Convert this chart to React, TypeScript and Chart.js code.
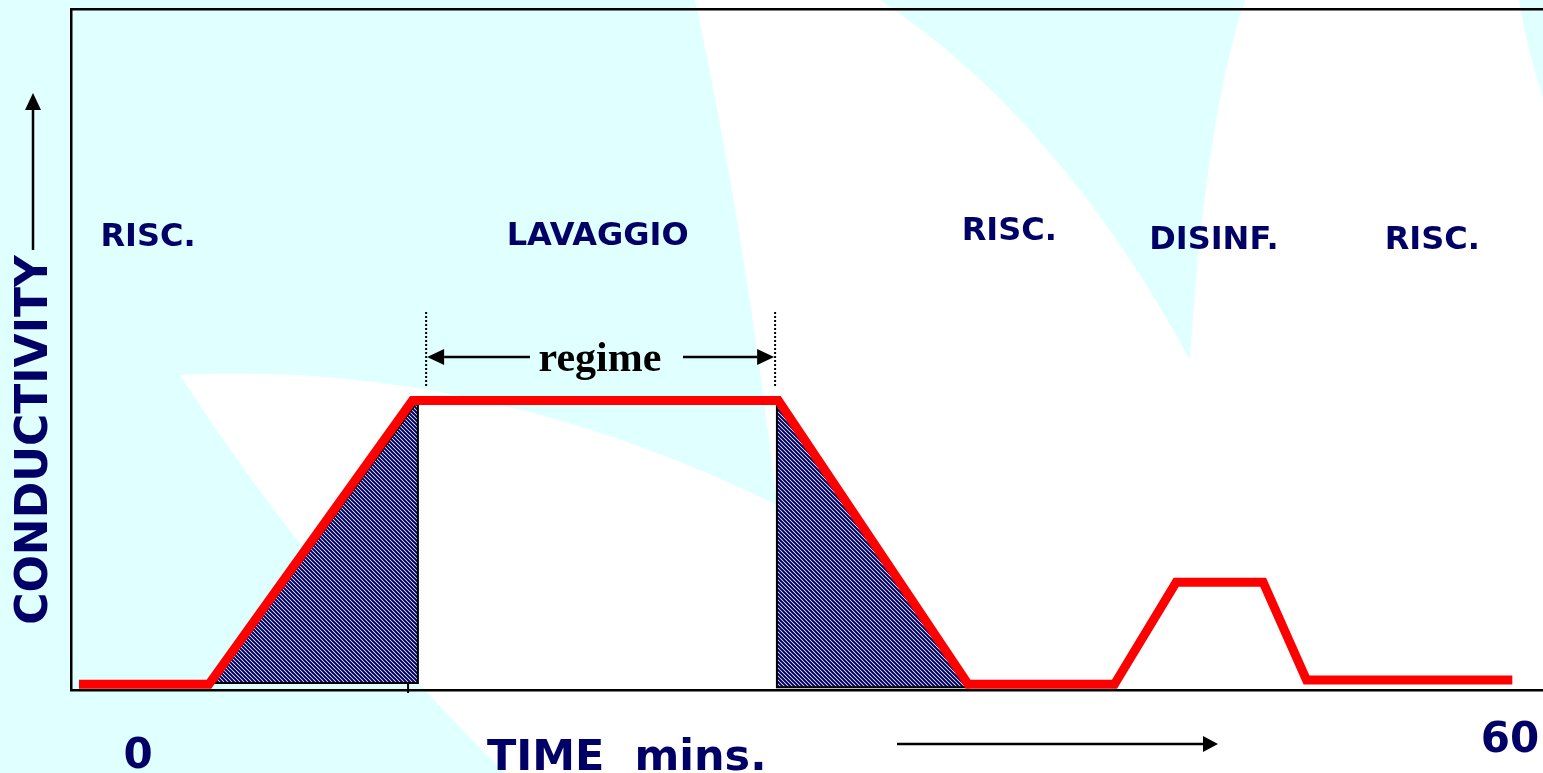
import React, { useEffect, useRef } from "react";
import { Chart, registerables } from "chart.js";

Chart.register(...registerables);

// ---- data (time in minutes, conductivity in relative units) ----
const conductivityTimes = [-2.58, 3.1, 12.0, 28.0, 36.3, 42.7, 45.4, 49.2, 51.1, 60.1];
const conductivityValues = [0, 0, 100, 100, 0, 0, 36, 36, 1.5, 1.5];

const rampUpTimes = [3.28, 12.24, 12.24, 3.28];
const rampUpValues = [0.5, 100, 0.5, 0.5];

const rampDownTimes = [27.94, 27.94, 36.3, 27.94];
const rampDownValues = [100, -1, -1, 100];

const phaseNames = ["RISC.", "LAVAGGIO", "RISC.", "DISINF.", "RISC."];
const phaseCenters = [0.44, 20.1, 38.1, 47.05, 56.6];

const timeTickValues = [0, 60];
const timeTickLabels = ["0", "60"];

const regimeStart = 12.6;
const regimeEnd = 27.86;
const markerTime = 11.81;

const xMin = -2.93;
const xMax = 61.44;
const yMin = -2;
const yMax = 238;

// ---- layout constants ----
const W = 1543;
const H = 773;
const NAVY = "#000066";
const phaseBaselines = [246, 245, 240, 249, 249];
const tickBaselines = [768, 752];

function toPoints(xs: number[], ys: number[]) {
  return xs.map((x, i) => ({ x, y: ys[i] }));
}

function arrow(
  ctx: CanvasRenderingContext2D,
  x1: number,
  y1: number,
  x2: number,
  y2: number,
  head: number,
  half: number,
  lw: number
) {
  const a = Math.atan2(y2 - y1, x2 - x1);
  const c = Math.cos(a);
  const s = Math.sin(a);
  ctx.lineWidth = lw;
  ctx.strokeStyle = "#000";
  ctx.fillStyle = "#000";
  ctx.setLineDash([]);
  ctx.beginPath();
  ctx.moveTo(x1, y1);
  ctx.lineTo(x2 - head * c, y2 - head * s);
  ctx.stroke();
  ctx.beginPath();
  ctx.moveTo(x2, y2);
  ctx.lineTo(x2 - head * c + half * s, y2 - head * s - half * c);
  ctx.lineTo(x2 - head * c - half * s, y2 - head * s + half * c);
  ctx.closePath();
  ctx.fill();
}

const backgroundPlugin = {
  id: "slideBackground",
  beforeDraw(chart: any) {
    const ctx: CanvasRenderingContext2D = chart.ctx;
    ctx.save();
    ctx.fillStyle = "#E0FFFF";
    ctx.fillRect(0, 0, chart.width, chart.height);
    ctx.fillStyle = "#FFFFFF";
    ctx.beginPath();
    ctx.moveTo(180, 375);
    ctx.quadraticCurveTo(315, 585, 505, 773);
    ctx.lineTo(1543, 773);
    ctx.lineTo(1543, 98);
    ctx.quadraticCurveTo(1526, 45, 1519, 0);
    ctx.lineTo(1245, 0);
    ctx.quadraticCurveTo(1205, 120, 1190, 360);
    ctx.quadraticCurveTo(1060, 120, 880, 0);
    ctx.lineTo(695, 0);
    ctx.quadraticCurveTo(745, 230, 777, 505);
    ctx.quadraticCurveTo(480, 360, 180, 375);
    ctx.closePath();
    ctx.fill();
    ctx.restore();
  },
};

const annotationPlugin = {
  id: "slideAnnotations",
  afterDraw(chart: any) {
    const ctx: CanvasRenderingContext2D = chart.ctx;
    const xs = chart.scales.x;
    const area = chart.chartArea;
    ctx.save();

    // phase labels
    ctx.fillStyle = NAVY;
    ctx.font = 'bold 32px "DejaVu Sans"';
    ctx.textAlign = "center";
    ctx.textBaseline = "alphabetic";
    phaseNames.forEach((n, i) => {
      ctx.fillText(n, xs.getPixelForValue(phaseCenters[i]), phaseBaselines[i]);
    });

    // time tick labels
    ctx.font = 'bold 42px "DejaVu Sans"';
    timeTickValues.forEach((v, i) => {
      ctx.fillText(timeTickLabels[i], xs.getPixelForValue(v), tickBaselines[i]);
    });

    // x title
    ctx.textAlign = "left";
    ctx.font = 'bold 43px "DejaVu Sans"';
    ctx.fillText("TIME  mins.", 487, 770);

    // y title
    ctx.save();
    ctx.translate(47, 440);
    ctx.rotate(-Math.PI / 2);
    ctx.textAlign = "center";
    ctx.font = 'bold 44px "DejaVu Sans"';
    ctx.fillText("CONDUCTIVITY", 0, 0);
    ctx.restore();

    // axis direction arrows
    arrow(ctx, 33, 250, 33, 93, 17, 8, 2.5);
    arrow(ctx, 897, 744, 1218, 744, 15, 8, 2.5);

    // regime markers
    const rx1 = xs.getPixelForValue(regimeStart);
    const rx2 = xs.getPixelForValue(regimeEnd);
    ctx.strokeStyle = "#000";
    ctx.lineWidth = 2;
    ctx.setLineDash([2, 2]);
    ctx.beginPath();
    ctx.moveTo(rx1, 312);
    ctx.lineTo(rx1, 388);
    ctx.moveTo(rx2, 312);
    ctx.lineTo(rx2, 388);
    ctx.stroke();
    ctx.setLineDash([]);
    arrow(ctx, 530, 357, rx1 + 1, 357, 17, 8, 2.5);
    arrow(ctx, 683, 357, rx2 - 1, 357, 17, 8, 2.5);

    ctx.fillStyle = "#000";
    ctx.font = 'bold 42px "Liberation Serif"';
    ctx.textAlign = "center";
    ctx.fillText("regime", 600, 371);

    // small tick on the time axis
    const mx = xs.getPixelForValue(markerTime);
    ctx.lineWidth = 2;
    ctx.beginPath();
    ctx.moveTo(mx, area.bottom - 8);
    ctx.lineTo(mx, area.bottom + 3);
    ctx.stroke();

    ctx.restore();
  },
};

export default function App() {
  const ref = useRef<HTMLCanvasElement>(null);

  useEffect(() => {
    document.body.style.margin = "0";
    document.body.style.overflow = "hidden";
    const canvas = ref.current!;

    const pc = document.createElement("canvas");
    pc.width = 4;
    pc.height = 4;
    const p = pc.getContext("2d")!;
    p.fillStyle = "#ffffff";
    p.fillRect(0, 0, 4, 4);
    p.strokeStyle = NAVY;
    p.lineWidth = 2;
    p.beginPath();
    p.moveTo(-1, -1);
    p.lineTo(5, 5);
    p.moveTo(-1, 3);
    p.lineTo(1, 5);
    p.moveTo(3, -1);
    p.lineTo(5, 1);
    p.stroke();
    const pattern = canvas.getContext("2d")!.createPattern(pc, "repeat");

    const chart = new Chart(canvas, {
      type: "line",
      data: {
        datasets: [
          {
            label: "Conductivity",
            data: toPoints(conductivityTimes, conductivityValues),
            borderColor: "#FF0000",
            borderWidth: 9,
            borderCapStyle: "butt",
            borderJoinStyle: "miter",
            pointRadius: 0,
            fill: false,
            tension: 0,
            order: 0,
          },
          {
            label: "Ramp up",
            data: toPoints(rampUpTimes, rampUpValues),
            borderColor: "#000000",
            borderWidth: 2,
            backgroundColor: pattern as any,
            pointRadius: 0,
            fill: "shape",
            tension: 0,
            order: 1,
          },
          {
            label: "Ramp down",
            data: toPoints(rampDownTimes, rampDownValues),
            borderColor: "#000000",
            borderWidth: 2,
            backgroundColor: pattern as any,
            pointRadius: 0,
            fill: "shape",
            tension: 0,
            order: 1,
          },
        ],
      },
      options: {
        responsive: false,
        animation: false,
        events: [],
        layout: { padding: 0 },
        plugins: {
          legend: { display: false },
          tooltip: { enabled: false },
          title: { display: false },
        },
        scales: {
          x: {
            type: "linear",
            position: "bottom",
            min: xMin,
            max: xMax,
            grid: { display: false },
            ticks: { display: false },
            border: { display: true, color: "#000", width: 2.5 },
            afterFit: (s: any) => {
              s.height = 83;
            },
          },
          xTop: {
            type: "linear",
            position: "top",
            min: xMin,
            max: xMax,
            grid: { display: false },
            ticks: { display: false },
            border: { display: true, color: "#000", width: 2.5 },
            afterFit: (s: any) => {
              s.height = 9;
            },
          },
          y: {
            type: "linear",
            position: "left",
            min: yMin,
            max: yMax,
            grid: { display: false },
            ticks: { display: false },
            border: { display: true, color: "#000", width: 2.5 },
            afterFit: (s: any) => {
              s.width = 71;
            },
          },
        },
      },
      plugins: [backgroundPlugin, annotationPlugin],
    } as any);

    return () => chart.destroy();
  }, []);

  return <canvas ref={ref} width={W} height={H} style={{ display: "block" }} />;
}
